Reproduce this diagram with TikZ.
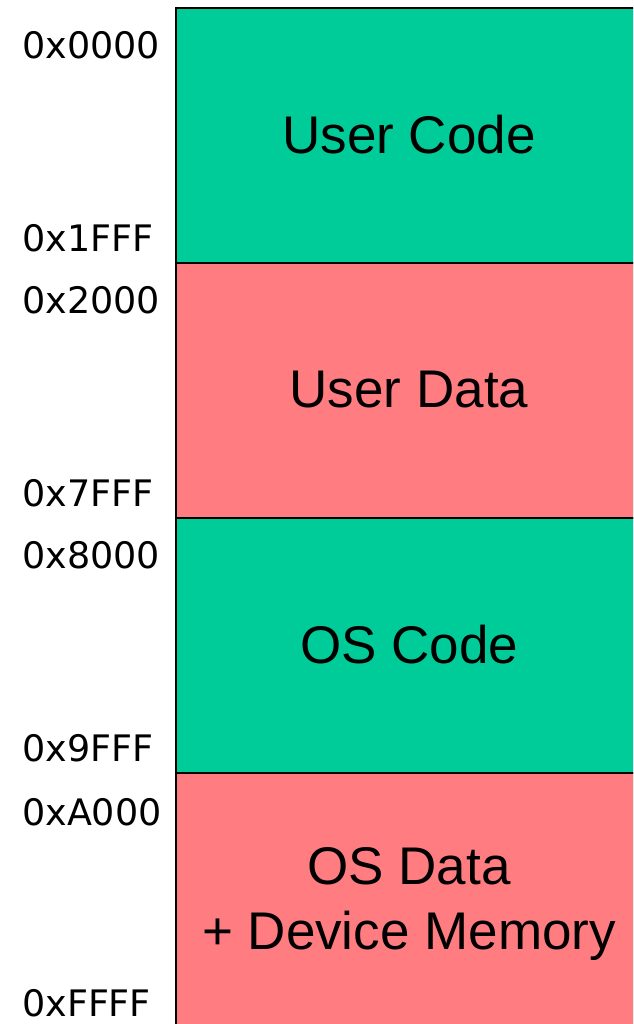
\documentclass[tikz,border=0pt]{standalone}
\usepackage{fontspec}
\setmainfont{Liberation Sans}
\newfontfamily\labfont{DejaVu Sans}
\definecolor{codegreen}{RGB}{0,204,153}
\definecolor{datared}{RGB}{255,124,128}
\begin{document}
\begin{tikzpicture}[x=1pt,y=-1pt,
  seg/.style={draw=black,line width=2pt},
  segtext/.style={font=\fontsize{53}{65}\selectfont,align=center},
  addr/.style={anchor=west,inner sep=0pt,font=\labfont\fontsize{36.5}{40}\selectfont}]
\useasboundingbox (0,0) rectangle (633,1024);
\clip (0,0) rectangle (633,1024);
\fill[white] (0,0) rectangle (633,1024);
\path[seg,fill=codegreen] (176,8) rectangle (645,263);
\path[seg,fill=datared] (176,263) rectangle (645,518);
\path[seg,fill=codegreen] (176,518) rectangle (645,773);
\path[seg,fill=datared] (176,773) rectangle (645,1030);
\node[segtext] (uc) at (409,135) {User Code};
\node[segtext] (ud) at (409,390) {User Data};
\node[segtext] (oc) at (409,645) {OS Code};
\node[segtext] (od) at (409,904) {OS Data\\+ Device Memory};
\node[addr] (a1) at (22,45) {0x0000};
\node[addr] (a2) at (22,238) {0x1FFF};
\node[addr] (a3) at (22,300) {0x2000};
\node[addr] (a4) at (22,493) {0x7FFF};
\node[addr] (a5) at (22,555) {0x8000};
\node[addr] (a6) at (22,748) {0x9FFF};
\node[addr] (a7) at (22,812) {0xA000};
\node[addr] (a8) at (22,1003) {0xFFFF};
\end{tikzpicture}
\end{document}
